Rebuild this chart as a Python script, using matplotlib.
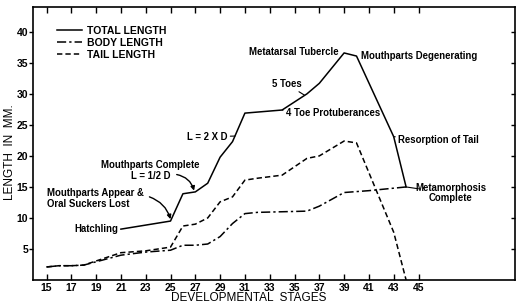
import matplotlib
matplotlib.use("Agg")
import matplotlib.pyplot as plt

plt.rcParams["font.family"] = ["Liberation Sans", "DejaVu Sans"]
plt.rcParams["font.weight"] = "bold"

# Total length (solid)
total_stage = [21, 25, 26, 27, 28, 29, 30, 31, 34, 36, 37, 39, 40, 43, 44]
total_mm = [8.2, 9.5, 13.9, 14.2, 15.6, 19.8, 22.3, 26.9, 27.4, 30.0, 31.7, 36.6, 36.1, 23.1, 15.0]

# Body length (dash-dot)
body_stage = [15, 16, 17, 18, 21, 23, 25, 26, 27, 28, 29, 30, 31, 32, 34, 36, 37, 39, 41, 44]
body_mm = [2.1, 2.3, 2.3, 2.4, 4.0, 4.5, 4.8, 5.6, 5.6, 5.8, 7.0, 9.1, 10.7, 10.9, 11.0, 11.1, 11.9, 14.1, 14.4, 15.0]

# Tail length (dashed)
tail_stage = [15, 16, 17, 18, 21, 23, 25, 26, 27, 28, 29, 30, 31, 32, 34, 36, 37, 39, 40, 43, 44]
tail_mm = [2.1, 2.3, 2.3, 2.4, 4.4, 4.7, 5.3, 8.7, 9.0, 10.0, 12.6, 13.4, 16.1, 16.4, 16.9, 19.6, 20.0, 22.4, 22.1, 7.7, 0.0]

stage_ticks = list(range(15, 46, 2))
mm_ticks = [5, 10, 15, 20, 25, 30, 35, 40]

fig = plt.figure(figsize=(5.22, 3.06), dpi=100)
ax = fig.add_axes([0.063, 0.085, 0.924, 0.892])

lw = 1.1
ax.plot(total_stage, total_mm, color="black", lw=lw, label="TOTAL LENGTH")
ax.plot(body_stage, body_mm, color="black", lw=lw, linestyle=(0, (6, 2, 1.5, 2)), label="BODY LENGTH")
ax.plot(tail_stage, tail_mm, color="black", lw=lw, linestyle=(0, (3.5, 2)), label="TAIL LENGTH")

ax.set_xlim(13.9, 52.8)
ax.set_ylim(0, 44)
ax.set_xticks(stage_ticks)
ax.set_yticks(mm_ticks)
ax.tick_params(axis="x", direction="in", top=True, length=4, width=1, labelsize=7.5, pad=2)
ax.tick_params(axis="y", direction="out", length=3, width=1, labelsize=7.5, pad=0.5)
ax.tick_params(axis="y", which="both", right=True)
for t in ax.yaxis.get_major_ticks():
    t.tick2line.set_marker(matplotlib.lines.TICKLEFT)
for s in ax.spines.values():
    s.set_linewidth(1.2)

ax.set_xlabel("DEVELOPMENTAL  STAGES", fontsize=8.5, labelpad=0)
ax.set_ylabel("LENGTH  IN  MM.", fontsize=8.5)
ax.xaxis.set_label_coords(0.447, -0.045)
ax.yaxis.set_label_coords(-0.034, 0.47)

leg = ax.legend(loc="upper left", bbox_to_anchor=(0.05, 0.93), frameon=False,
                fontsize=7.5, handlelength=2.4, handletextpad=0.5, labelspacing=0.18,
                borderpad=0, borderaxespad=0)

fs = 6.9
lead = dict(arrowstyle="-", color="black", lw=0.8, shrinkA=0, shrinkB=0)

ax.text(20.75, 8.2, "Hatchling", fontsize=fs, ha="right", va="center")
ax.text(15.0, 13.1, "Mouthparts Appear &\nOral Suckers Lost", fontsize=fs, ha="left", va="center",
        linespacing=1.1)
ax.annotate("", xy=(25.0, 9.8), xytext=(23.3, 13.4),
            arrowprops=dict(arrowstyle="-|>", color="black", lw=1.0, mutation_scale=6,
                            connectionstyle="arc3,rad=-0.25", shrinkA=0, shrinkB=0))
ax.text(23.4, 17.7, "Mouthparts Complete\nL = 1/2 D", fontsize=fs, ha="center", va="center",
        linespacing=1.1)
ax.annotate("", xy=(26.9, 14.4), xytext=(25.5, 17.0),
            arrowprops=dict(arrowstyle="-|>", color="black", lw=1.0, mutation_scale=6,
                            connectionstyle="arc3,rad=-0.3", shrinkA=0, shrinkB=0))
ax.annotate("L = 2 X D", xy=(30.2, 23.2), xytext=(29.6, 23.1), fontsize=fs,
            ha="right", va="center", arrowprops=lead)
ax.text(38.55, 36.8, "Metatarsal Tubercle", fontsize=fs, ha="right", va="center")
ax.text(40.35, 36.1, "Mouthparts Degenerating", fontsize=fs, ha="left", va="center")
ax.annotate("5 Toes", xy=(35.8, 29.8), xytext=(35.55, 31.6), fontsize=fs,
            ha="right", va="center", arrowprops=lead)
ax.annotate("4 Toe Protuberances", xy=(34.0, 27.4), xytext=(34.3, 26.9), fontsize=fs,
            ha="left", va="center", arrowprops=lead)
ax.annotate("Resorption of Tail", xy=(43.0, 23.1), xytext=(43.35, 22.6), fontsize=fs,
            ha="left", va="center", arrowprops=lead)
ax.annotate("", xy=(44.0, 15.0), xytext=(45.0, 14.7), arrowprops=lead)
ax.text(47.6, 13.95, "Metamorphosis\nComplete", fontsize=fs, ha="center", va="center",
        linespacing=1.0)

fig.savefig("out.png", dpi=100)
